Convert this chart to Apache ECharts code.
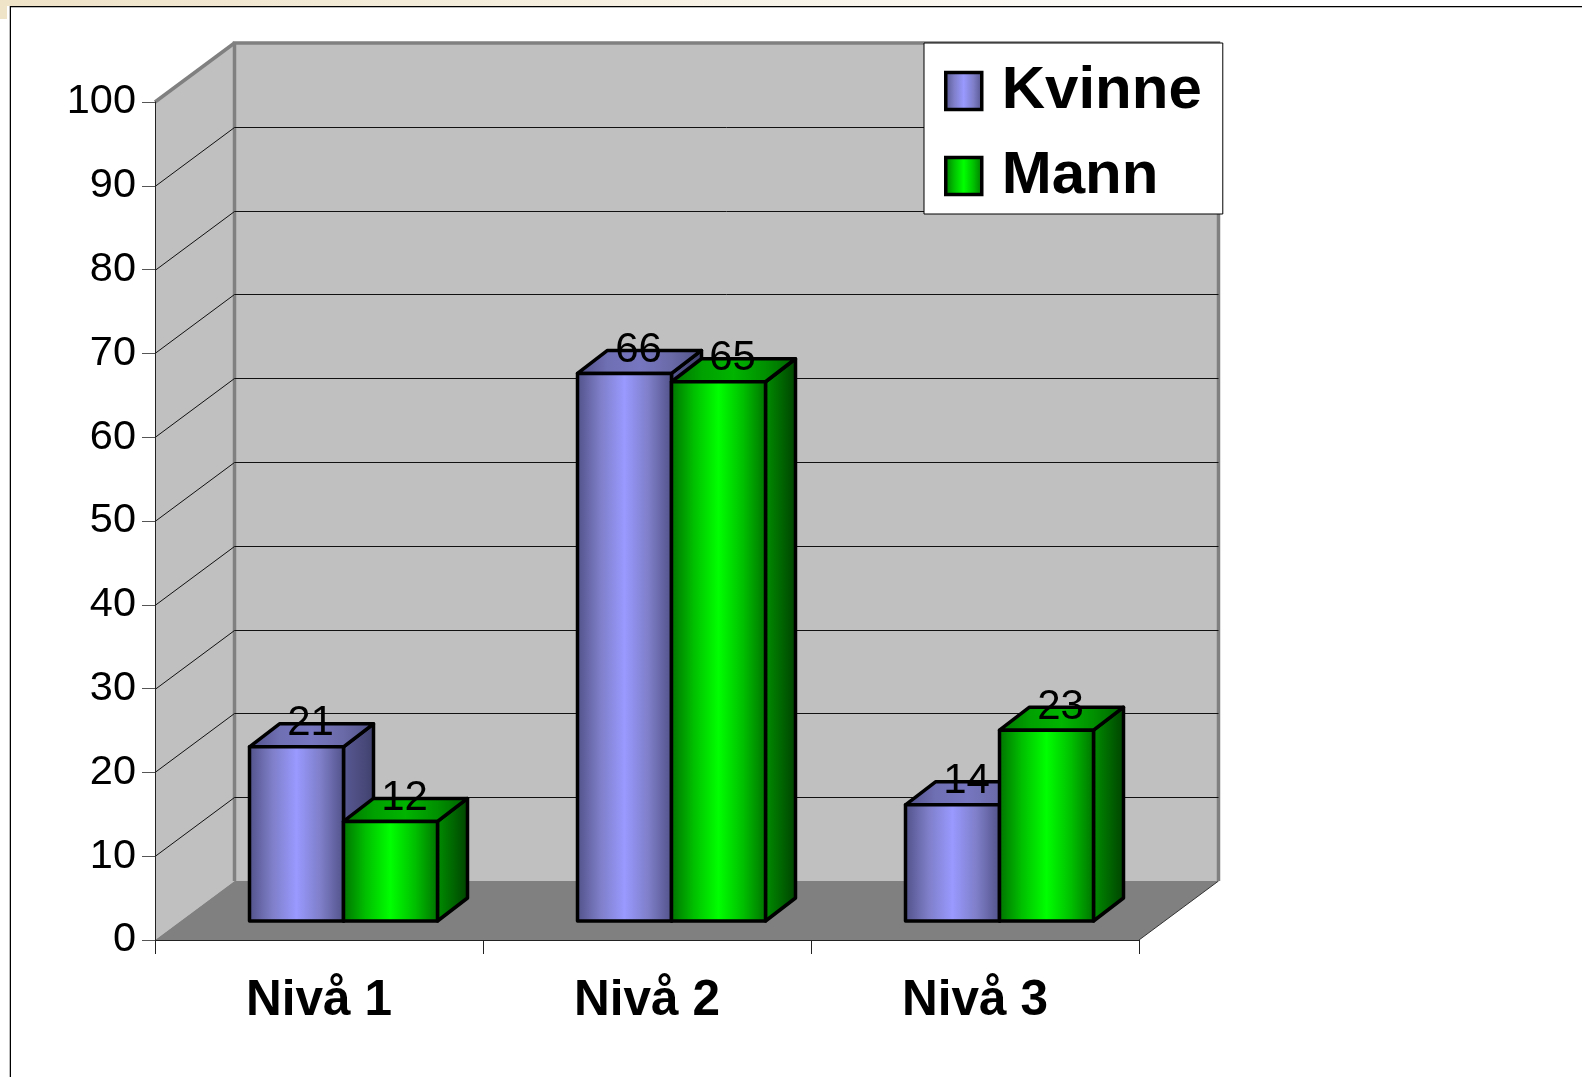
<!DOCTYPE html>
<html>
<head>
<meta charset="utf-8">
<title>Nivå</title>
<style>
  html, body { margin: 0; padding: 0; background: #fff; overflow: hidden; }
  #strip { position: absolute; left: 0; top: 0; width: 1300px; height: 6px; background: linear-gradient(to right, #efe3c8, #ffffff); }
  #stripLeft { position: absolute; left: 0; top: 0; width: 7px; height: 19px; background: #efe3c8; }
  #frameTop { position: absolute; left: 10px; top: 6px; right: 0; height: 1px; background: #000; border-bottom: 1px solid #bbb; }
  #frameLeft { position: absolute; left: 9px; top: 6px; bottom: 0; width: 1px; background: #000; border-left: 1px solid #bbb; }
  #main { position: absolute; left: 0; top: 0; width: 1582px; height: 1077px; }
</style>
<script src="https://cdn.jsdelivr.net/npm/echarts@6/dist/echarts.min.js"></script>
</head>
<body>
<div id="strip"></div>
<div id="stripLeft"></div>
<div id="main"></div>
<div id="frameTop"></div>
<div id="frameLeft"></div>
<script>
var categories = ['Nivå 1', 'Nivå 2', 'Nivå 3'];
var kvinne = [21, 66, 14];
var mann = [12, 65, 23];
var yTicks = [10, 20, 30, 40, 50, 60, 70, 80, 90, 100];

// 3D look
var depthX = 79.5, depthY = 59;     // walls
var barDepthX = 30, barDepthY = 23; // bars
var barW = 94;
var shiftX = 24.5, shiftY = 19;     // bars stand a bit in from the front edge
var barScale = 0.99;
var wallGray = '#c0c0c0', edgeGray = '#808080';

function hGrad(stops) {
  return new echarts.graphic.LinearGradient(0, 0, 1, 0, stops.map(function (c, i) {
    return { offset: i / (stops.length - 1), color: c };
  }));
}
var blue = {
  front: hGrad(['#4f4f86', '#7e7ec8', '#9999ff', '#7e7ec8', '#4f4f86']),
  top: hGrad(['#4f4f86', '#6f6fb4', '#7676c0', '#6a6aa8', '#4f4f86']),
  side: hGrad(['#5a5a96', '#40406c'])
};
var green = {
  front: hGrad(['#006f00', '#00c000', '#00ff00', '#00c000', '#006f00']),
  top: hGrad(['#006f00', '#00a000', '#00b400', '#009000', '#006000']),
  side: hGrad(['#009000', '#004000'])
};

function renderWalls(params, api) {
  var g = params.coordSys;
  var x0 = g.x, x1 = g.x + g.width, y1 = g.y, y0 = g.y + g.height;
  var line = { stroke: edgeGray, lineWidth: 3.5 };
  return {
    type: 'group',
    children: [
      { type: 'polygon', shape: { points: [[x0, y0], [x0 + depthX, y0 - depthY], [x0 + depthX, y1 - depthY], [x0, y1]] }, style: { fill: wallGray } },
      { type: 'polygon', shape: { points: [[x0 + depthX, y0 - depthY], [x1 + depthX, y0 - depthY], [x1 + depthX, y1 - depthY], [x0 + depthX, y1 - depthY]] }, style: { fill: wallGray } },
      { type: 'polygon', shape: { points: [[x0, y0], [x1, y0], [x1 + depthX, y0 - depthY], [x0 + depthX, y0 - depthY]] }, style: { fill: edgeGray } },
      { type: 'line', shape: { x1: x0, y1: y1, x2: x0 + depthX, y2: y1 - depthY }, style: line },
      { type: 'polyline', shape: { points: [[x0 + depthX, y0 - depthY], [x0 + depthX, y1 - depthY], [x1 + depthX, y1 - depthY], [x1 + depthX, y0 - depthY]] }, style: { stroke: edgeGray, lineWidth: 3.5, fill: null }, z2: 5 },
      { type: 'line', shape: { x1: x1, y1: y0, x2: x1 + depthX, y2: y0 - depthY }, style: { stroke: '#333', lineWidth: 1 } }
    ]
  };
}

function renderGrid(params, api) {
  var g = params.coordSys;
  var p = api.coord([0, api.value(0)]);
  var y = Math.round(p[1]) + 0.5, x0 = g.x, xb = x0 + depthX, xe = g.x + g.width + depthX;
  var isTop = api.value(0) === 100;
  if (isTop) return { type: 'group', children: [] };
  return {
    type: 'group',
    children: [
      { type: 'line', shape: { x1: x0, y1: y, x2: xb, y2: y - depthY }, style: { stroke: '#111', lineWidth: 1 } },
      { type: 'line', shape: { x1: xb, y1: y - depthY, x2: xe, y2: y - depthY }, style: { stroke: '#111', lineWidth: 1 } }
    ]
  };
}

function barRender(look, side) {
  return function (params, api) {
    var cat = api.value(0), val = api.value(1);
    var c = api.coord([cat, 0]);
    var h = api.size([0, val])[1] * barScale;
    var base = c[1] - shiftY;
    var top = base - h;
    var l = c[0] + shiftX + (side < 0 ? -barW : 0);
    var r = l + barW;
    var bd = { stroke: '#000', lineWidth: 3.5, lineJoin: 'round' };
    return {
      type: 'group',
      children: [
        { type: 'polygon', shape: { points: [[r, base], [r + barDepthX, base - barDepthY], [r + barDepthX, top - barDepthY], [r, top]] }, style: Object.assign({ fill: look.side }, bd) },
        { type: 'polygon', shape: { points: [[l, top], [l + barDepthX, top - barDepthY], [r + barDepthX, top - barDepthY], [r, top]] }, style: Object.assign({ fill: look.top }, bd) },
        { type: 'rect', shape: { x: l, y: top, width: barW, height: h }, style: Object.assign({ fill: look.front }, bd) },
        {
          type: 'text', z2: 100,
          style: { x: (l + r) / 2 + 14, y: top - 23, text: String(val), align: 'center', verticalAlign: 'middle', fill: '#000', font: '42px "Liberation Sans", Arial, sans-serif' }
        }
      ]
    };
  };
}

var chart = echarts.init(document.getElementById('main'), null, { renderer: 'canvas' });
chart.setOption({
  backgroundColor: 'transparent',
  animation: false,
  textStyle: { fontFamily: '"Liberation Sans", Arial, sans-serif' },
  grid: { left: 155, right: 443, top: 102, bottom: 137 },
  legend: {
    left: 924, top: 43,
    orient: 'vertical',
    backgroundColor: '#fff',
    borderColor: '#000',
    borderWidth: 1,
    borderRadius: 0,
    padding: [14, 21, 4, 20],
    itemGap: 17,
    itemWidth: 36,
    itemHeight: 37,
    z: 20,
    selectedMode: false,
    textStyle: { fontFamily: '"Liberation Sans", Arial, sans-serif', fontSize: 60, fontWeight: 'bold', color: '#000', lineHeight: 60, padding: [8, 0, 0, 15] },
    data: [
      { name: 'Kvinne', icon: 'rect', itemStyle: { color: blue.front, borderColor: '#000', borderWidth: 3.5 } },
      { name: 'Mann', icon: 'rect', itemStyle: { color: green.front, borderColor: '#000', borderWidth: 3.5 } }
    ]
  },
  xAxis: {
    type: 'category',
    data: categories,
    boundaryGap: true,
    axisLine: { lineStyle: { color: '#222', width: 1 } },
    axisTick: { show: true, alignWithLabel: false, length: 14, lineStyle: { color: '#222', width: 1 } },
    axisLabel: { interval: 0, margin: 36, fontSize: 49.5, fontWeight: 'bold', color: '#000', fontFamily: '"Liberation Sans", Arial, sans-serif' },
    z: 10
  },
  yAxis: {
    type: 'value',
    min: 0,
    max: 100,
    interval: 10,
    splitLine: { show: false },
    axisLine: { show: true, lineStyle: { color: '#222', width: 1 } },
    axisTick: { show: true, length: 13, lineStyle: { color: '#555', width: 1 } },
    axisLabel: { margin: 19, fontSize: 41.5, color: '#000', padding: [7, 0, 0, 0], fontFamily: '"Liberation Sans", Arial, sans-serif' },
    z: 10
  },
  series: [
    { type: 'custom', silent: true, z: 1, coordinateSystem: 'cartesian2d', renderItem: renderWalls, data: [[0, 0]], clip: false },
    { type: 'custom', silent: true, z: 2, coordinateSystem: 'cartesian2d', renderItem: renderGrid, encode: { y: 0 }, data: yTicks.map(function (t) { return [t]; }), clip: false },
    { name: 'Kvinne', type: 'custom', silent: true, z: 3, renderItem: barRender(blue, -1), encode: { x: 0, y: 1 }, data: kvinne.map(function (v, i) { return [i, v]; }), clip: false },
    { name: 'Mann', type: 'custom', silent: true, z: 4, renderItem: barRender(green, 1), encode: { x: 0, y: 1 }, data: mann.map(function (v, i) { return [i, v]; }), clip: false }
  ]
});
</script>
</body>
</html>
